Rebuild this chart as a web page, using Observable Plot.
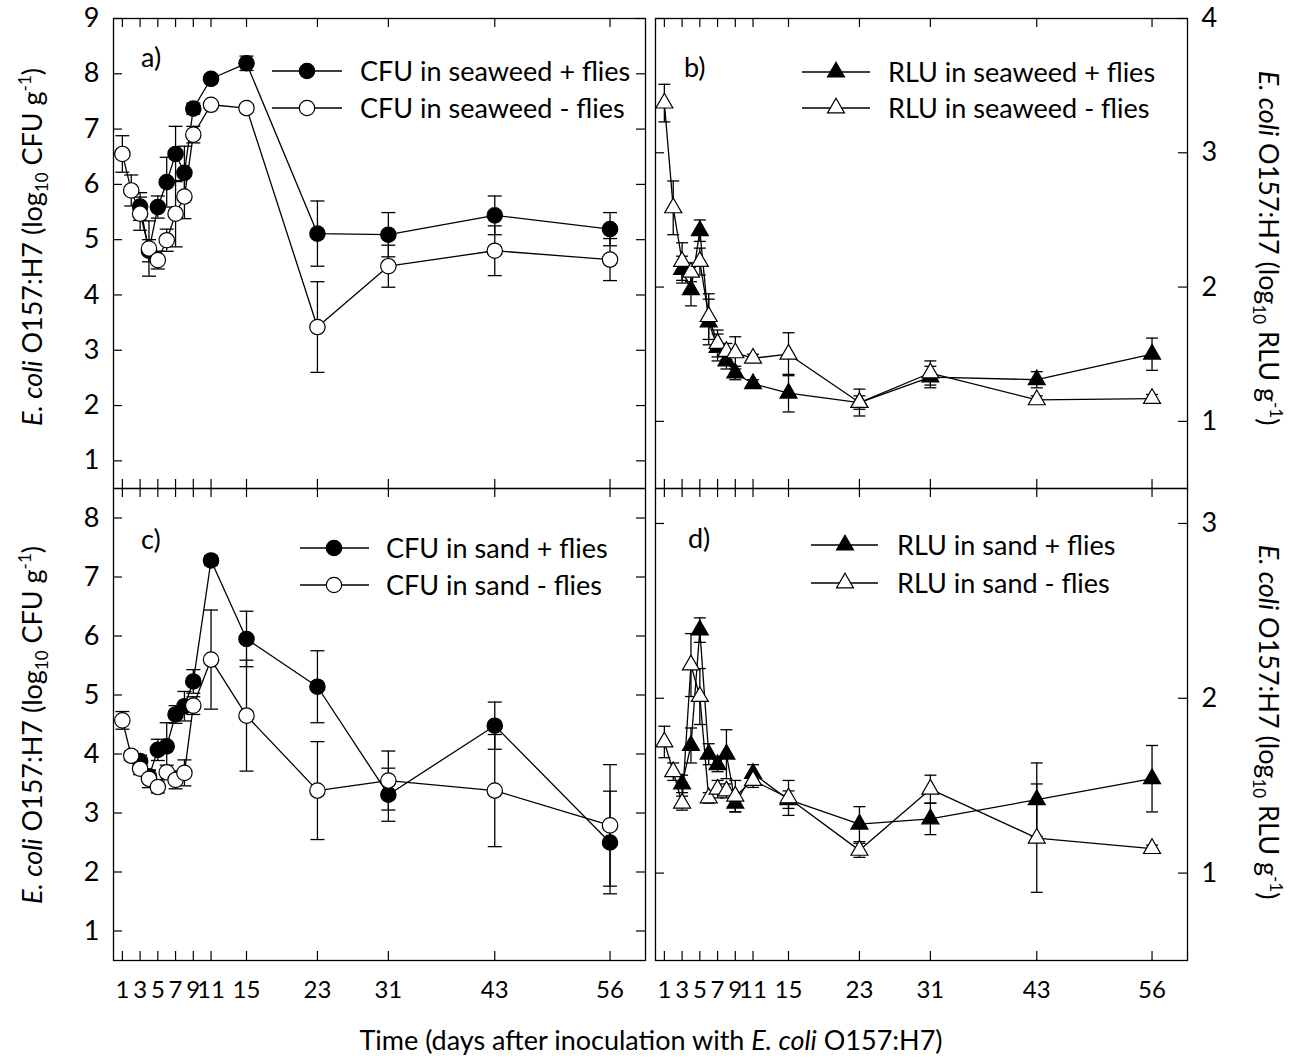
<!DOCTYPE html>
<html>
<head>
<meta charset="utf-8">
<script src="https://cdn.jsdelivr.net/npm/d3@7"></script>
<script src="https://cdn.jsdelivr.net/npm/@observablehq/plot@0.6"></script>
<style>
  body { margin: 0; background: #fff; }
  #fig { position: relative; width: 1302px; height: 1061px; background: #fff; overflow: hidden; }
  #fig > svg { position: absolute; }
</style>
</head>
<body>
<div id="fig"></div>
<script>
// ---- sampling days ----
const daysAll   = [1, 2, 3, 4, 5, 6, 7, 8, 9, 11, 15, 23, 31, 43, 56];
const daysFlies = [3, 4, 5, 6, 7, 8, 9, 11, 15, 23, 31, 43, 56];
const dayTicks  = [1, 3, 5, 7, 9, 11, 15, 23, 31, 43, 56];

// ---- a) CFU in seaweed (log10 CFU g-1) ----
const cfuSeaweedFlies      = [5.60, 4.80, 5.59, 6.04, 6.55, 6.21, 7.37, 7.91, 8.19, 5.11, 5.09, 5.44, 5.19];
const cfuSeaweedFliesSE    = [0.25, 0.20, 0.20, 0.45, 0.50, 0.48, 0.10, 0.08, 0.13, 0.59, 0.40, 0.35, 0.30];
const cfuSeaweedNoFlies    = [6.55, 5.89, 5.47, 4.84, 4.63, 4.99, 5.47, 5.78, 6.90, 7.44, 7.38, 3.42, 4.52, 4.80, 4.64];
const cfuSeaweedNoFliesSE  = [0.33, 0.28, 0.30, 0.50, 0.16, 0.20, 0.60, 0.40, 0.15, 0.06, 0.07, 0.82, 0.38, 0.45, 0.38];

// ---- b) RLU in seaweed (log10 RLU g-1) ----
const rluSeaweedFlies      = [2.13, 1.98, 2.42, 1.74, 1.55, 1.45, 1.36, 1.28, 1.21, 1.14, 1.33, 1.31, 1.50];
const rluSeaweedFliesSE    = [0.10, 0.12, 0.08, 0.17, 0.10, 0.06, 0.05, 0.03, 0.14, 0.05, 0.08, 0.06, 0.12];
const rluSeaweedNoFlies    = [3.37, 2.59, 2.19, 2.11, 2.19, 1.78, 1.58, 1.52, 1.51, 1.47, 1.50, 1.14, 1.36, 1.16, 1.17];
const rluSeaweedNoFliesSE  = [0.14, 0.20, 0.14, 0.07, 0.10, 0.17, 0.10, 0.06, 0.12, 0.03, 0.16, 0.10, 0.09, 0.03, 0.03];

// ---- c) CFU in sand ----
const cfuSandFlies         = [3.88, 3.62, 4.07, 4.13, 4.67, 4.81, 5.23, 7.28, 5.95, 5.14, 3.31, 4.48, 2.50];
const cfuSandFliesSE       = [0.10, 0.10, 0.18, 0.40, 0.15, 0.25, 0.20, 0.08, 0.47, 0.61, 0.45, 0.40, 0.87];
const cfuSandNoFlies       = [4.57, 3.97, 3.75, 3.58, 3.44, 3.69, 3.56, 3.68, 4.82, 5.60, 4.65, 3.38, 3.55, 3.38, 2.79];
const cfuSandNoFliesSE     = [0.15, 0.08, 0.10, 0.15, 0.10, 0.12, 0.15, 0.22, 0.15, 0.84, 0.94, 0.83, 0.50, 0.95, 1.03];

// ---- d) RLU in sand ----
const rluSandFlies         = [1.51, 1.73, 2.39, 1.68, 1.62, 1.68, 1.40, 1.57, 1.42, 1.28, 1.31, 1.42, 1.54];
const rluSandFliesSE       = [0.05, 0.10, 0.07, 0.06, 0.04, 0.14, 0.05, 0.05, 0.05, 0.10, 0.09, 0.21, 0.19];
const rluSandNoFlies       = [1.75, 1.58, 1.40, 2.19, 2.01, 1.43, 1.48, 1.47, 1.44, 1.53, 1.43, 1.13, 1.48, 1.20, 1.14];
const rluSandNoFliesSE     = [0.09, 0.05, 0.04, 0.18, 0.16, 0.03, 0.05, 0.04, 0.09, 0.04, 0.10, 0.04, 0.08, 0.31, 0.02];

// ---- legend text ----
const legendA = ["CFU in seaweed + flies", "CFU in seaweed - flies"];
const legendB = ["RLU in seaweed + flies", "RLU in seaweed - flies"];
const legendC = ["CFU in sand + flies", "CFU in sand - flies"];
const legendD = ["RLU in sand + flies", "RLU in sand - flies"];

const FONT = "Lato, 'Open Sans', sans-serif";
const FS = 27;
const INK = "#000";

const rows = (days, v, e) => days.map((d, i) => ({day: d, v: v[i], e: e[i]}));

// horizontal cap used at both ends of each error bar
const capSymbol = {
  draw(ctx, size) {
    const w = Math.sqrt(size / Math.PI);
    ctx.moveTo(-w, 0);
    ctx.lineTo(w, 0);
  }
};

const fig = document.getElementById("fig");
const FW = 532;     // frame width
const TL = 9;       // inward tick length

function panel({left, top, fh, mL, mR, mT, mB, yDomain, yTicks, yAnchor, xLabels, marker, r, capR, series}) {
  const tickStyle = {stroke: INK, strokeWidth: 1.2};
  const marks = [
    Plot.ruleY(yTicks, {insetRight: FW - TL, ...tickStyle}),
    Plot.ruleY(yTicks, {insetLeft: FW - TL, ...tickStyle}),
    Plot.ruleX(dayTicks, {insetTop: fh - TL, ...tickStyle}),
    Plot.ruleX(dayTicks, {insetBottom: fh - TL, ...tickStyle}),
    Plot.axisY(yTicks, {anchor: yAnchor, label: null, tickSize: 0, tickPadding: 14, tickFormat: d => String(d), fill: INK})
  ];
  if (xLabels) {
    marks.push(Plot.axisX(dayTicks, {anchor: "bottom", label: null, tickSize: 0, tickPadding: 20, fontSize: 24, tickFormat: d => String(d), fill: INK}));
  }
  for (const s of series) {
    marks.push(
      Plot.line(s.data, {x: "day", y: "v", stroke: INK, strokeWidth: 1.3}),
      Plot.ruleX(s.data, {x: "day", y1: d => d.v - d.e, y2: d => d.v + d.e, stroke: INK, strokeWidth: 1.3}),
      Plot.dot(s.data, {x: "day", y: d => d.v + d.e, symbol: capSymbol, r: capR, fill: "none", stroke: INK, strokeWidth: 1.3}),
      Plot.dot(s.data, {x: "day", y: d => d.v - d.e, symbol: capSymbol, r: capR, fill: "none", stroke: INK, strokeWidth: 1.3}),
      Plot.dot(s.data, {x: "day", y: "v", symbol: marker, r, fill: s.fill, stroke: INK, strokeWidth: 1.2})
    );
  }
  marks.push(Plot.frame({stroke: INK, strokeWidth: 1.3}));
  const svg = Plot.plot({
    width: mL + FW + mR,
    height: mT + fh + mB,
    marginLeft: mL, marginRight: mR, marginTop: mT, marginBottom: mB,
    x: {domain: [0, 60], axis: xLabels ? undefined : null},
    y: {domain: yDomain},
    style: {background: "transparent", overflow: "visible", fontFamily: FONT, fontSize: FS + "px", color: INK},
    marks
  });
  svg.style.left = left + "px";
  svg.style.top = top + "px";
  fig.appendChild(svg);
}

// a) seaweed CFU
panel({
  left: 0, top: 0, fh: 470, mL: 113, mR: 2, mT: 18, mB: 2,
  yDomain: [0.5, 9], yTicks: [1, 2, 3, 4, 5, 6, 7, 8, 9], yAnchor: "left", xLabels: false,
  marker: "circle", r: 7.7, capR: 7,
  series: [
    {data: rows(daysFlies, cfuSeaweedFlies, cfuSeaweedFliesSE), fill: INK},
    {data: rows(daysAll, cfuSeaweedNoFlies, cfuSeaweedNoFliesSE), fill: "#fff"}
  ]
});
// b) seaweed RLU
panel({
  left: 653, top: 0, fh: 470, mL: 2, mR: 80, mT: 18, mB: 2,
  yDomain: [0.5, 4], yTicks: [1, 2, 3, 4], yAnchor: "right", xLabels: false,
  marker: "triangle", r: 6.3, capR: 6,
  series: [
    {data: rows(daysFlies, rluSeaweedFlies, rluSeaweedFliesSE), fill: INK},
    {data: rows(daysAll, rluSeaweedNoFlies, rluSeaweedNoFliesSE), fill: "#fff"}
  ]
});
// c) sand CFU
panel({
  left: 0, top: 486, fh: 472, mL: 113, mR: 2, mT: 2, mB: 50,
  yDomain: [0.5, 8.5], yTicks: [1, 2, 3, 4, 5, 6, 7, 8], yAnchor: "left", xLabels: true,
  marker: "circle", r: 7.7, capR: 7,
  series: [
    {data: rows(daysFlies, cfuSandFlies, cfuSandFliesSE), fill: INK},
    {data: rows(daysAll, cfuSandNoFlies, cfuSandNoFliesSE), fill: "#fff"}
  ]
});
// d) sand RLU
panel({
  left: 653, top: 486, fh: 472, mL: 2, mR: 80, mT: 2, mB: 50,
  yDomain: [0.5, 3.2], yTicks: [1, 2, 3], yAnchor: "right", xLabels: true,
  marker: "triangle", r: 6.3, capR: 6,
  series: [
    {data: rows(daysFlies, rluSandFlies, rluSandFliesSE), fill: INK},
    {data: rows(daysAll, rluSandNoFlies, rluSandNoFliesSE), fill: "#fff"}
  ]
});

// ---- overlay: legends, panel letters and axis titles ----
const ov = d3.select(fig).append("svg")
  .attr("width", 1302).attr("height", 1061)
  .style("left", "0px").style("top", "0px")
  .attr("font-family", FONT).attr("font-size", FS).attr("fill", INK);

function legend(labels, shape, r, x1, x2, xm, xt, ys) {
  const sym = shape === "circle" ? d3.symbolCircle : d3.symbolTriangle;
  const path = d3.symbol(sym, Math.PI * r * r)();
  labels.forEach((txt, i) => {
    const y = ys[i];
    ov.append("line").attr("x1", x1).attr("x2", x2).attr("y1", y).attr("y2", y)
      .attr("stroke", INK).attr("stroke-width", 1.3);
    ov.append("path").attr("d", path).attr("transform", `translate(${xm},${y})`)
      .attr("fill", i === 0 ? INK : "#fff").attr("stroke", INK).attr("stroke-width", 1.2);
    ov.append("text").attr("x", xt).attr("y", y + 10).text(txt);
  });
}
legend(legendA, "circle", 7.7, 272, 342, 307, 360, [71, 108]);
legend(legendB, "triangle", 6.3, 802, 870, 836, 888, [72, 108]);
legend(legendC, "circle", 7.7, 300, 369, 334, 386, [548, 585]);
legend(legendD, "triangle", 6.3, 811, 878, 845, 897, [545, 583]);

ov.append("text").attr("x", 141).attr("y", 67).text("a)");
ov.append("text").attr("x", 684).attr("y", 77).text("b)");
ov.append("text").attr("x", 141).attr("y", 549).text("c)");
ov.append("text").attr("x", 688).attr("y", 548).text("d)");

function yTitle(x, y, angle, unit) {
  const t = ov.append("text").attr("text-anchor", "middle")
    .attr("transform", `translate(${x},${y}) rotate(${angle})`);
  t.append("tspan").attr("font-style", "italic").text("E. coli");
  t.append("tspan").text(" O157:H7 (log");
  t.append("tspan").attr("font-size", 17).attr("dy", 6).text("10");
  t.append("tspan").attr("dy", -6).text(` ${unit} g`);
  t.append("tspan").attr("font-size", 17).attr("dy", -11).text("-1");
  t.append("tspan").attr("dy", 11).text(")");
}
yTitle(42, 247, -90, "CFU");
yTitle(42, 725, -90, "CFU");
yTitle(1259, 248, 90, "RLU");
yTitle(1259, 722, 90, "RLU");

const xt = ov.append("text").attr("text-anchor", "middle").attr("x", 651).attr("y", 1050);
xt.append("tspan").text("Time (days after inoculation with ");
xt.append("tspan").attr("font-style", "italic").text("E. coli");
xt.append("tspan").text(" O157:H7)");
</script>
</body>
</html>
